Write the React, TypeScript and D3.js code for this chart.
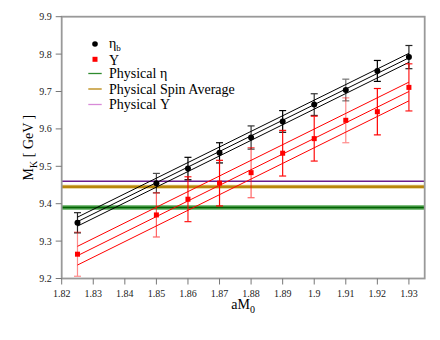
import * as d3 from "d3";

const W = 440;
const H = 340;
const margin = { top: 16.7, right: 15.3, bottom: 61.5, left: 61.7 };

// aM0 values where masses were measured
const aM0 = [1.825, 1.85, 1.86, 1.87, 1.88, 1.89, 1.9, 1.91, 1.92, 1.93];

// eta_b kinetic mass + error
const etaMass = [9.349, 9.455, 9.494, 9.536, 9.577, 9.62, 9.665, 9.704, 9.755, 9.792];
const etaErr = [0.027, 0.026, 0.03, 0.027, 0.031, 0.029, 0.029, 0.029, 0.028, 0.031];
const etaAlpha = [0.85, 0.7, 1, 1, 0.8, 1, 0.8, 0.55, 1, 0.85];

// Upsilon kinetic mass + error
const upsMass = [9.265, 9.37, 9.412, 9.455, 9.483, 9.535, 9.574, 9.623, 9.646, 9.711];
const upsErr = [0.059, 0.059, 0.06, 0.061, 0.067, 0.061, 0.06, 0.06, 0.062, 0.063];
const upsAlpha = [0.45, 0.6, 0.9, 1, 0.6, 0.95, 0.95, 0.45, 1, 0.9];

// linear fits: centre line at the end points, band half width
const fitX = [1.825, 1.93];
const etaFit = [9.352, 9.79];
const etaBand = 0.012;
const upsFit = [9.261, 9.7];
const upsBand = 0.025;

// physical reference levels
const physEta = 9.39;
const physSpinAvg = 9.445;
const physUps = 9.46;

const xTicks = [1.82, 1.83, 1.84, 1.85, 1.86, 1.87, 1.88, 1.89, 1.9, 1.91, 1.92, 1.93];
const yTicks = [9.2, 9.3, 9.4, 9.5, 9.6, 9.7, 9.8, 9.9];

const font = "Liberation Serif, serif";

export default function App() {
  const x = d3.scaleLinear().domain([1.82, 1.935]).range([margin.left, W - margin.right]);
  const y = d3.scaleLinear().domain([9.2, 9.9]).range([H - margin.bottom, margin.top]);
  const fmt = d3.format("~g");
  const line = d3.line<[number, number]>().x(d => x(d[0])).y(d => y(d[1]));

  const fitLines = (fit: number[], band: number, color: string, key: string) =>
    [-band, 0, band].map((o, i) => (
      <path key={key + i} d={line(fitX.map((v, j) => [v, fit[j] + o]) as [number, number][]) || ""}
        stroke={color} strokeWidth={1} fill="none" />
    ));

  const errBars = (mass: number[], err: number[], alpha: number[], color: string, key: string) =>
    aM0.map((v, i) => {
      const cx = x(v);
      const y1 = y(mass[i] + err[i]);
      const y2 = y(mass[i] - err[i]);
      return (
        <g key={key + i} stroke={color} strokeWidth={1.2} opacity={alpha[i]}>
          <line x1={cx} x2={cx} y1={y1} y2={y2} />
          <line x1={cx - 3.5} x2={cx + 3.5} y1={y1} y2={y1} />
          <line x1={cx - 3.5} x2={cx + 3.5} y1={y2} y2={y2} />
        </g>
      );
    });

  const x0 = margin.left;
  const x1 = W - margin.right;
  const yb = H - margin.bottom;

  return (
    <svg width={W} height={H} style={{ position: "absolute", left: 0, top: 0, background: "#fff", fontFamily: font }}>
      {/* physical levels */}
      <line x1={x0} x2={x1} y1={y(physEta)} y2={y(physEta)} stroke="#7fbf7f" strokeWidth={5} />
      <line x1={x0} x2={x1} y1={y(physEta)} y2={y(physEta)} stroke="#006400" strokeWidth={2} />
      <line x1={x0} x2={x1} y1={y(physSpinAvg)} y2={y(physSpinAvg)} stroke="#e6cc8a" strokeWidth={4} />
      <line x1={x0} x2={x1} y1={y(physSpinAvg)} y2={y(physSpinAvg)} stroke="#b8860b" strokeWidth={2.5} />
      <line x1={x0} x2={x1} y1={y(physUps)} y2={y(physUps)} stroke="#6a1b8a" strokeWidth={1.3} />

      {fitLines(etaFit, etaBand, "#000", "ef")}
      {fitLines(upsFit, upsBand, "#ff0000", "uf")}

      {errBars(etaMass, etaErr, etaAlpha, "#000", "ee")}
      {errBars(upsMass, upsErr, upsAlpha, "#ff0000", "ue")}

      {aM0.map((v, i) => (
        <circle key={"ep" + i} cx={x(v)} cy={y(etaMass[i])} r={3} fill="#000" />
      ))}
      {aM0.map((v, i) => (
        <rect key={"up" + i} x={x(v) - 2.5} y={y(upsMass[i]) - 2.5} width={5} height={5} fill="#ff0000" />
      ))}

      {/* frame */}
      <rect x={x0} y={margin.top} width={x1 - x0} height={yb - margin.top} fill="none" stroke="#999" strokeWidth={1.8} />

      {xTicks.map(t => (
        <g key={"xt" + t}>
          <line x1={x(t)} x2={x(t)} y1={yb} y2={yb + 6} stroke="#777" strokeWidth={1} />
          <text x={x(t)} y={yb + 18} textAnchor="middle" fontSize={10} fill="#222">{fmt(t)}</text>
        </g>
      ))}
      {yTicks.map(t => (
        <g key={"yt" + t}>
          <line x1={x0 - 6} x2={x0} y1={y(t)} y2={y(t)} stroke="#777" strokeWidth={1} />
          <text x={x0 - 10} y={y(t)} dy="0.35em" textAnchor="end" fontSize={10} fill="#222">{fmt(t)}</text>
        </g>
      ))}

      {/* axis titles */}
      <text x={(x0 + x1) / 2} y={309} textAnchor="middle" fontSize={14}>
        aM<tspan fontSize={10} dy={4}>0</tspan>
      </text>
      <text transform={`translate(33, ${(margin.top + yb) / 2}) rotate(-90)`} textAnchor="middle" fontSize={14}>
        M<tspan fontSize={10} dy={4}>K</tspan><tspan dy={-4}> [ GeV ]</tspan>
      </text>

      {/* legend */}
      <g fontSize={14}>
        <circle cx={95} cy={44} r={2.8} fill="#000" />
        <text x={109} y={43} dy="0.35em">η<tspan fontSize={9} dy={3}>b</tspan></text>
        <rect x={92.5} y={56.8} width={5} height={5} fill="#ff0000" />
        <text x={109} y={59.8} dy="0.35em">Υ</text>
        <line x1={88.3} x2={101.7} y1={73.5} y2={73.5} stroke="#2e8b2e" strokeWidth={1.3} />
        <text x={109} y={73.5} dy="0.35em">Physical η</text>
        <line x1={88.3} x2={101.7} y1={89} y2={89} stroke="#b8860b" strokeWidth={1.3} />
        <text x={109} y={89} dy="0.35em">Physical Spin Average</text>
        <line x1={88.3} x2={101.7} y1={104.5} y2={104.5} stroke="#d88ad8" strokeWidth={1.3} />
        <text x={109} y={104.5} dy="0.35em">Physical Υ</text>
      </g>
    </svg>
  );
}
